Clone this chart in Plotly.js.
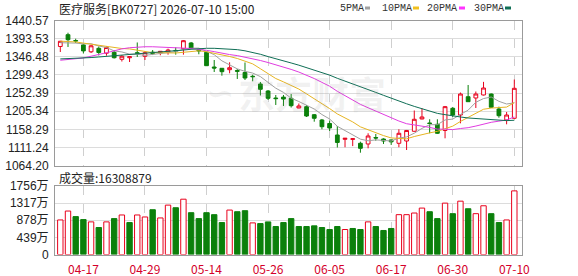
<!DOCTYPE html>
<html><head><meta charset="utf-8">
<script src="https://cdn.plot.ly/plotly-3.0.1.min.js"></script>
<style>html,body{margin:0;padding:0;background:#fff;}#chart{width:578px;height:276px;}</style>
</head><body><div id="chart"></div>
<script>
const dates = ["04-14","04-15","04-16","04-17","04-20","04-21","04-22","04-23","04-24","04-27","04-28","04-29","04-30","05-06","05-07","05-08","05-11","05-12","05-13","05-14","05-15","05-18","05-19","05-20","05-21","05-22","05-25","05-26","05-27","05-28","05-29","06-01","06-02","06-03","06-04","06-05","06-08","06-09","06-10","06-11","06-12","06-15","06-16","06-17","06-18","06-22","06-23","06-24","06-25","06-26","06-29","06-30","07-01","07-02","07-03","07-06","07-07","07-08","07-09","07-10"];
const openP  = [1373.2,1403.8,1388.7,1377.3,1359.4,1368.5,1355.8,1358.1,1340.0,1344.1,1357.0,1347.8,1358.5,1357.0,1359.0,1363.0,1367.5,1382.3,1364.0,1358.1,1320.0,1316.7,1313.1,1311.0,1305.8,1296.0,1276.0,1257.8,1239.7,1242.0,1238.9,1213.8,1217.2,1196.4,1182.7,1173.6,1143.8,1132.6,1132.5,1122.3,1120.5,1137.3,1133.4,1131.0,1122.3,1128.2,1153.4,1185.3,1174.9,1171.5,1155.5,1213.0,1195.6,1243.0,1239.7,1247.5,1250.0,1211.2,1182.7,1187.1];
const highP  = [1387.5,1408.9,1393.4,1379.1,1377.0,1373.2,1373.7,1364.1,1351.1,1347.0,1383.6,1361.5,1364.0,1361.5,1367.5,1371.0,1390.0,1384.9,1364.7,1359.7,1338.2,1317.0,1332.2,1314.9,1331.7,1300.0,1281.2,1260.4,1247.5,1247.5,1250.0,1225.4,1221.6,1198.0,1185.3,1181.4,1167.1,1136.0,1136.0,1126.4,1148.2,1146.4,1135.2,1132.0,1158.6,1156.8,1207.3,1213.0,1184.5,1184.5,1219.0,1216.4,1253.9,1273.4,1256.5,1281.5,1251.4,1217.2,1203.4,1287.6];
const lowP   = [1358.9,1371.9,1382.2,1355.0,1356.3,1349.9,1349.3,1342.0,1334.3,1333.0,1346.0,1338.2,1351.0,1350.4,1352.0,1352.0,1352.0,1366.0,1353.0,1322.6,1307.1,1297.5,1303.7,1289.0,1286.4,1283.0,1246.2,1234.5,1221.6,1219.0,1215.0,1213.0,1190.5,1178.3,1158.6,1154.2,1111.4,1112.0,1115.0,1097.9,1109.3,1129.0,1120.5,1118.0,1112.0,1104.9,1152.9,1184.5,1148.2,1146.4,1135.2,1190.5,1174.1,1229.3,1213.8,1246.2,1213.8,1188.6,1171.5,1186.3];
const closeP = [1386.7,1390.8,1387.5,1361.8,1375.0,1357.6,1370.6,1344.1,1348.0,1346.7,1355.5,1357.0,1355.5,1360.7,1364.0,1361.5,1388.2,1369.3,1362.0,1323.4,1317.4,1307.9,1318.2,1309.0,1291.5,1295.0,1262.2,1238.9,1238.1,1237.0,1219.7,1219.0,1193.0,1187.1,1165.3,1162.0,1124.4,1135.2,1134.0,1109.3,1141.2,1136.0,1128.2,1126.0,1148.2,1155.5,1184.5,1190.5,1173.6,1148.2,1217.2,1195.6,1250.0,1230.1,1250.0,1265.6,1215.6,1193.8,1195.6,1264.8];
// volume in 万
const volume = [886,1114,971,895,836,692,836,920,1013,819,1013,962,1148,937,1266,1199,1418,1072,920,1072,1021,819,1139,1097,1123,810,793,836,717,819,920,717,717,734,692,641,717,641,667,641,836,717,616,667,1021,1021,1063,1190,1097,920,1317,1047,1367,1173,1047,1249,1047,819,886,1630.8879];
const ma5Head  = [1383,1383,1382,1380];
const ma10Head = [1387,1386,1385,1382,1379,1376,1373,1370,1368];
const ma20Head = [1337.5,1339,1341,1343.5,1348,1352,1357,1362,1367,1370,1372,1372.5,1372.5,1372,1370.5,1369.5,1369,1368,1366];
const ma30Head = [1341,1341.5,1342,1343,1344.5,1346,1347.5,1349,1351,1352.5,1354,1355,1356.5,1358,1360,1362,1364,1366,1367.5,1368.5,1368.5,1368,1367,1365,1362,1358,1353,1347,1342];
const priceTicks = ["1064.20","1111.24","1158.29","1205.34","1252.39","1299.43","1346.48","1393.53","1440.57"];
const volTicks = [0,439,878,1317,1756];
const volTickText = ["0","439万","878万","1317万","1756万"];
const xTickLabels = ["04-17","04-29","05-14","05-26","06-05","06-17","06-30","07-10"];
const titleText = "医疗服务[BK0727] 2026-07-10 15:00";

const RED = "#e8001c", GREEN = "#0b800b";
function ma(n, head) {
  return closeP.map((c, i) => {
    if (i < n - 1) return head[i];
    let s = 0; for (let k = i - n + 1; k <= i; k++) s += closeP[k];
    return s / n;
  });
}
const volUp = closeP.map((c, i) => i === 0 ? c >= openP[0] : c >= closeP[i - 1]);

const xd = [55/578, 522/578];
const traces = [
  {type:'candlestick', x: dates, open: openP, high: highP, low: lowP, close: closeP, xaxis:'x2', yaxis:'y2',
   increasing:{line:{color:RED, width:1}, fillcolor:'#ffffff'},
   decreasing:{line:{color:GREEN, width:1}, fillcolor:GREEN}, whiskerwidth:0, hoverinfo:'skip', showlegend:false},
  {type:'scatter', mode:'lines', x: dates, y: ma(5, ma5Head), xaxis:'x2', yaxis:'y2', line:{color:'#a0a0a0', width:1}, hoverinfo:'skip', showlegend:false},
  {type:'scatter', mode:'lines', x: dates, y: ma(10, ma10Head), xaxis:'x2', yaxis:'y2', line:{color:'#e6b422', width:1}, hoverinfo:'skip', showlegend:false},
  {type:'scatter', mode:'lines', x: dates, y: ma(20, ma20Head), xaxis:'x2', yaxis:'y2', line:{color:'#e03ce0', width:1}, hoverinfo:'skip', showlegend:false},
  {type:'scatter', mode:'lines', x: dates, y: ma(30, ma30Head), xaxis:'x2', yaxis:'y2', line:{color:'#0f6e55', width:1}, hoverinfo:'skip', showlegend:false},
  {type:'bar', x: dates, y: volume, xaxis:'x', yaxis:'y', width:0.7,
   marker:{color: volUp.map(u => u ? '#ffffff' : GREEN), line:{color: volUp.map(u => u ? RED : GREEN), width:1}},
   hoverinfo:'skip', showlegend:false}
];

const tickFont = {family:'Liberation Sans, Arial, Noto Sans CJK SC', size:12, color:'#222'};
const xAxisCommon = {type:'category', domain: xd, range:[-0.69, 60.0], showgrid:true, griddash:'dash', gridcolor:'#cfcfcf', gridwidth:1,
  tickvals: xTickLabels, ticktext: xTickLabels, showline:true, mirror:true, linecolor:'#9a9a9a', linewidth:1, zeroline:false, ticks:'', fixedrange:true};
const layout = {
  width:578, height:276, margin:{l:0, r:0, t:0, b:0}, paper_bgcolor:'#fff', plot_bgcolor:'#fff',
  showlegend:false, dragmode:false,
  xaxis: Object.assign({}, xAxisCommon, {anchor:'y', showticklabels:true, ticklabelstandoff:4,
     tickfont:{family:'Noto Sans CJK SC', size:12, color:'#d4002a'}}),
  xaxis2: Object.assign({}, xAxisCommon, {anchor:'y2', matches:'x', showticklabels:false, rangeslider:{visible:false}}),
  yaxis: {domain:[1-254.5/276, 1-186/276], range:[0,1756], tickvals: volTicks, ticktext: volTickText, tickfont: tickFont,
     showgrid:true, gridcolor:'#dcdcdc', zeroline:false, showline:true, mirror:true, linecolor:'#9a9a9a', ticks:'', ticklabelstandoff:3, fixedrange:true},
  yaxis2: {domain:[1-165.7/276, 1-20.5/276], range:[1064.20, 1440.57], tickvals: priceTicks.map(Number), ticktext: priceTicks, tickfont: tickFont,
     showgrid:true, gridcolor:'#dcdcdc', zeroline:false, showline:true, mirror:true, linecolor:'#9a9a9a', ticks:'', ticklabelstandoff:3, fixedrange:true},
  annotations: [
    {xref:'paper', yref:'paper', x:57/578, y:1-8/276, xanchor:'left', yanchor:'middle', showarrow:false, text: titleText,
     font:{family:'Noto Sans CJK SC', size:12, color:'#222'}},
    {xref:'paper', yref:'paper', x:57/578, y:1-177/276, xanchor:'left', yanchor:'middle', showarrow:false,
     text: '成交量:' + Math.round(volume[volume.length-1]*10000), font:{family:'Noto Sans CJK SC', size:12, color:'#222'}},
    {xref:'paper', yref:'paper', x:312/578, y:1-93/276, xanchor:'center', yanchor:'middle', showarrow:false, text:'<b>东方财富</b>',
     font:{family:'Noto Sans CJK SC', size:37, color:'rgba(150,150,150,0.13)'}},
    {xref:'paper', yref:'paper', x:220/578, y:1-93/276, xanchor:'center', yanchor:'middle', showarrow:false, text:'<b>∽</b>',
     font:{family:'DejaVu Sans', size:34, color:'rgba(150,150,150,0.12)'}},
    {xref:'paper', yref:'paper', x:338/578, y:1-8/276, xanchor:'left', yanchor:'middle', showarrow:false, text:'5PMA', font:{family:'Liberation Mono', size:10, color:'#333'}},
    {xref:'paper', yref:'paper', x:380/578, y:1-8/276, xanchor:'left', yanchor:'middle', showarrow:false, text:'10PMA', font:{family:'Liberation Mono', size:10, color:'#333'}},
    {xref:'paper', yref:'paper', x:425/578, y:1-8/276, xanchor:'left', yanchor:'middle', showarrow:false, text:'20PMA', font:{family:'Liberation Mono', size:10, color:'#333'}},
    {xref:'paper', yref:'paper', x:472/578, y:1-8/276, xanchor:'left', yanchor:'middle', showarrow:false, text:'30PMA', font:{family:'Liberation Mono', size:10, color:'#333'}}
  ],
  shapes: [
    {type:'rect', xref:'paper', yref:'paper', x0:365/578, x1:370/578, y0:1-9.5/276, y1:1-6.5/276, fillcolor:'#a0a0a0', line:{width:0}},
    {type:'rect', xref:'paper', yref:'paper', x0:413/578, x1:419/578, y0:1-9.5/276, y1:1-6.5/276, fillcolor:'#f0c020', line:{width:0}},
    {type:'rect', xref:'paper', yref:'paper', x0:459/578, x1:465/578, y0:1-9.5/276, y1:1-6.5/276, fillcolor:'#ff33ff', line:{width:0}},
    {type:'rect', xref:'paper', yref:'paper', x0:505/578, x1:511/578, y0:1-9.5/276, y1:1-6.5/276, fillcolor:'#0f6e55', line:{width:0}}
  ]
};
Plotly.newPlot('chart', traces, layout, {displayModeBar:false, staticPlot:true});
</script></body></html>
